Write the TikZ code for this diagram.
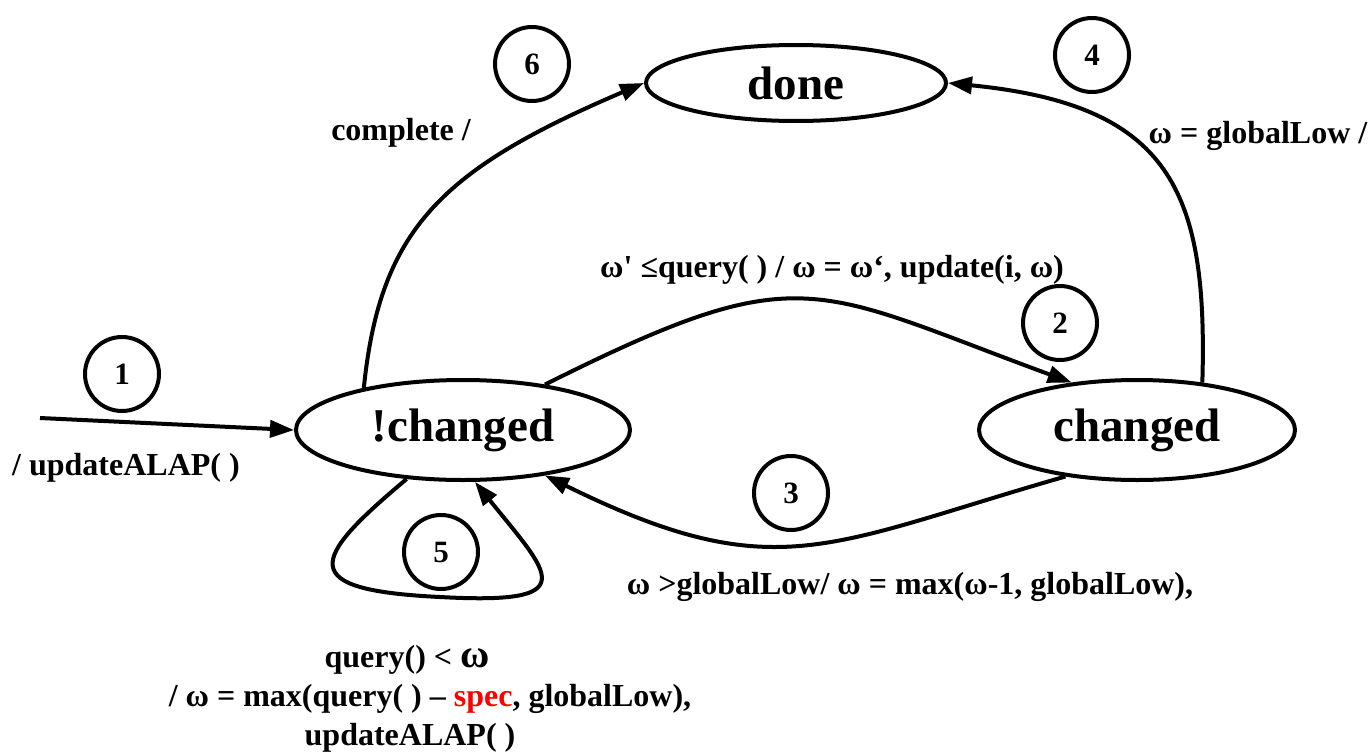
\documentclass[tikz,border=0pt]{standalone}
\usepackage{fontspec}
\setmainfont{Liberation Serif}
\usetikzlibrary{shapes, arrows.meta, positioning}

\begin{document}
\begin{tikzpicture}[
		x=1pt, y=-1pt,
		% Define styles
		statenode/.style={ellipse, draw=black, line width=4pt, inner sep=0pt, font=\fontsize{47}{50}\selectfont\bfseries},
		numcircle/.style={circle, draw=black, line width=4pt, minimum size=74pt, inner sep=0pt, font=\fontsize{31}{34}\selectfont\bfseries},
		transarrow/.style={-{Triangle[length=24pt, width=17pt]}, line width=4pt},
		translabel/.style={font=\fontsize{32}{39}\selectfont\bfseries, align=center, inner sep=0pt}
		]
		\useasboundingbox (0,0) rectangle (1370,752);
		
		% States
		\node[statenode, minimum width=300pt, minimum height=76pt] (done) at (796,83) {done};
		\node[statenode, minimum width=334pt, minimum height=100pt] (nchg) at (463,430) {!changed};
		\node[statenode, minimum width=316pt, minimum height=100pt] (chg) at (1137,430) {changed};
		
		% Transition numbers
		\node[numcircle] (n1) at (122,374) {1};
		\node[numcircle] (n2) at (1060,323) {2};
		\node[numcircle] (n3) at (791,493) {3};
		\node[numcircle] (n4) at (1092,55) {4};
		\node[numcircle] (n5) at (441,552) {5};
		\node[numcircle] (n6) at (532,64) {6};
		
		% Transitions
		\coordinate (init) at (40,418);
		\coordinate (loopbot) at (440,597);
		\draw[transarrow] (init) -- (nchg.west);
		\draw[transarrow] (nchg.157) .. controls (380,230) and (440,170) .. (done.west);
		\draw[transarrow] (chg.36) .. controls (1208,190) and (1170,105) .. (done.east);
		\draw[transarrow] (nchg.29) .. controls (802,256) and (811,287) .. (chg.144);
		\draw[transarrow] (chg.213) .. controls (826,545) and (776,589) .. (nchg.-29);
		\draw[transarrow] (nchg.221) .. controls (310,560) and (295,590) .. (loopbot)
			.. controls (585,605) and (550,575) .. (nchg.283);
		
		% Transition labels
		\node[translabel] (l1) at (126,468) {/ updateALAP( )};
		\node[translabel] (l6) at (401,133) {complete /};
		\node[translabel] (l4) at (1258,136) {ω = globalLow /};
		\node[translabel] (l2) at (832,270) {ω\textquotesingle{} ≤query( ) / ω = ω‘, update(i, ω)};
		\node[translabel] (l3) at (910,587) {ω >globalLow/ ω = max(ω-1, globalLow),};
		\node[translabel] (l5) at (430,699) {query() < {\fontsize{40}{39}\selectfont ω}\hspace*{46pt}\\/ ω = max(query( ) – \textcolor{red}{spec}, globalLow),\\updateALAP( )\hspace*{40pt}};
		
\end{tikzpicture}
\end{document}
